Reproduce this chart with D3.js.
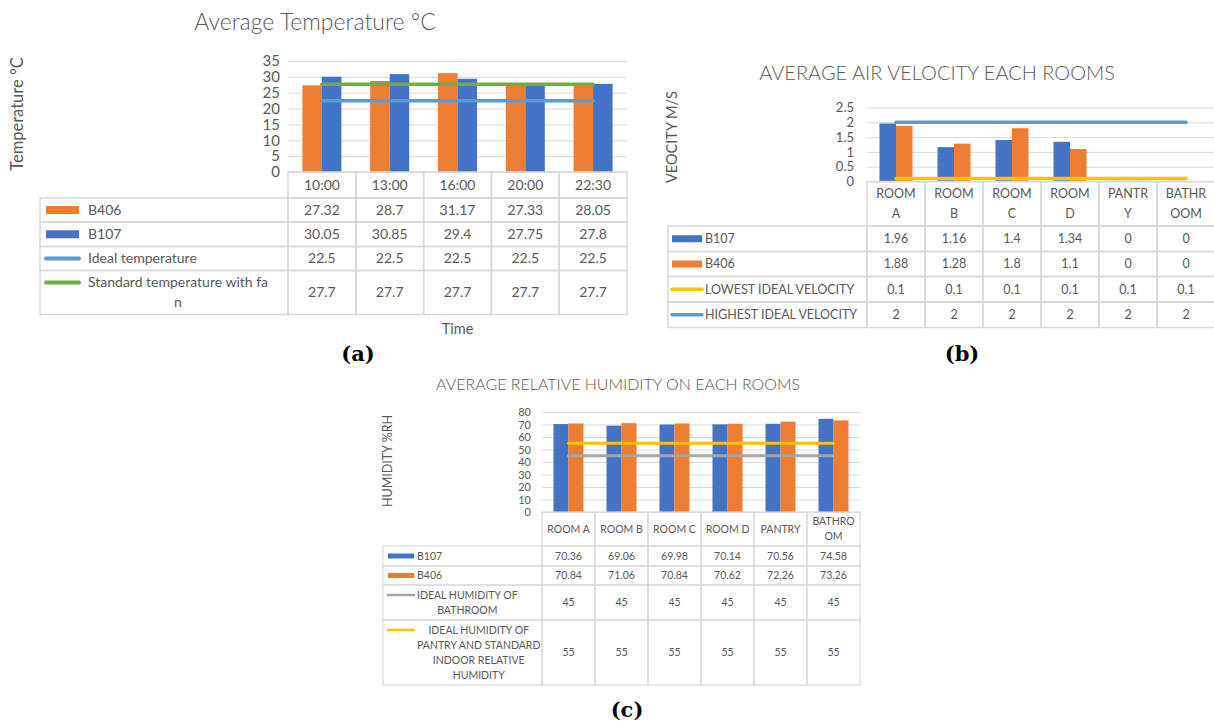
<!DOCTYPE html>
<html>
<head>
<meta charset="utf-8">
<script src="https://cdn.jsdelivr.net/npm/d3@7"></script>
<style>
  body { margin: 0; background: #fff; }
  svg { display: block; font-family: Lato, "Open Sans", sans-serif; }
</style>
</head>
<body>
<svg id="chart" width="1214" height="725"></svg>
<script>
// ---------------- DATA ----------------
// (a) Average Temperature
const tempTimes = ["10:00", "13:00", "16:00", "20:00", "22:30"];
const tempB406 = [27.32, 28.7, 31.17, 27.33, 28.05];
const tempB107 = [30.05, 30.85, 29.4, 27.75, 27.8];
const tempIdeal = [22.5, 22.5, 22.5, 22.5, 22.5];
const tempStandard = [27.7, 27.7, 27.7, 27.7, 27.7];
const tempTicks = [0, 5, 10, 15, 20, 25, 30, 35];

// (b) Average Air Velocity
const velRooms = ["ROOM A", "ROOM B", "ROOM C", "ROOM D", "PANTRY", "BATHROOM"];
const velHeaderLines = [["ROOM", "A"], ["ROOM", "B"], ["ROOM", "C"], ["ROOM", "D"], ["PANTR", "Y"], ["BATHR", "OOM"]];
const velB107 = [1.96, 1.16, 1.4, 1.34, 0, 0];
const velB406 = [1.88, 1.28, 1.8, 1.1, 0, 0];
const velLowest = [0.1, 0.1, 0.1, 0.1, 0.1, 0.1];
const velHighest = [2, 2, 2, 2, 2, 2];
const velTicks = [0, 0.5, 1, 1.5, 2, 2.5];

// (c) Average Relative Humidity
const humRooms = ["ROOM A", "ROOM B", "ROOM C", "ROOM D", "PANTRY", "BATHROOM"];
const humHeaderLines = [["ROOM A"], ["ROOM B"], ["ROOM C"], ["ROOM D"], ["PANTRY"], ["BATHRO", "OM"]];
const humB107 = [70.36, 69.06, 69.98, 70.14, 70.56, 74.58];
const humB406 = [70.84, 71.06, 70.84, 70.62, 72.26, 73.26];
const humBathroom = [45, 45, 45, 45, 45, 45];
const humPantry = [55, 55, 55, 55, 55, 55];
const humTicks = [0, 10, 20, 30, 40, 50, 60, 70, 80];

// ---------------- STYLE ----------------
const C = {
  orange: "#ED7D31", blue: "#4472C4", lblue: "#5B9BD5",
  green: "#70AD47", yellow: "#FFC000", gray: "#A5A5A5",
  grid: "#D9D9D9", text: "#595959"
};

const svg = d3.select("#chart");

function drawPanel(cfg, categories, headerLines, series, ticks) {
  const g = svg.append("g");
  const n = categories.length;
  const x = d3.scaleBand().domain(categories).range([cfg.plotLeft, cfg.plotLeft + n * cfg.colW]).padding(0);
  const y = d3.scaleLinear().domain([0, cfg.yMax]).range([cfg.yBottom, cfg.yTop]);
  const plotRight = cfg.plotLeft + n * cfg.colW;
  const gridRight = Math.min(plotRight, cfg.clipRight || 99999);

  // gridlines
  g.append("g")
    .attr("transform", `translate(${cfg.plotLeft},0)`)
    .call(d3.axisLeft(y).tickValues(ticks).tickSize(-(gridRight - cfg.plotLeft)).tickFormat(""))
    .call(s => s.select(".domain").remove())
    .call(s => s.selectAll("line").attr("stroke", C.grid).attr("stroke-width", 1));

  // tick labels
  g.append("g")
    .attr("transform", `translate(${cfg.tickX},0)`)
    .call(d3.axisLeft(y).tickValues(ticks).tickSize(0).tickPadding(0).tickFormat(d => String(d)))
    .call(s => s.select(".domain").remove())
    .call(s => s.selectAll("text").attr("fill", C.text).style("font-size", cfg.tickFont + "px").style("font-family", "Lato"));

  // bars
  const bars = series.filter(s => s.type === "bar");
  const inner = d3.scaleBand().domain(bars.map(b => b.name)).range([0, bars.length * cfg.barW]).padding(0);
  bars.forEach(b => {
    g.append("g").selectAll("rect").data(b.values).join("rect")
      .attr("x", (d, i) => x(categories[i]) + x.bandwidth() / 2 - bars.length * cfg.barW / 2 + inner(b.name))
      .attr("width", inner.bandwidth())
      .attr("y", d => y(d))
      .attr("height", d => y(0) - y(d))
      .attr("fill", b.color);
  });

  // lines
  series.filter(s => s.type === "line").forEach(l => {
    const line = d3.line().x((d, i) => x(categories[i]) + x.bandwidth() / 2).y(d => y(d));
    g.append("path").datum(l.values).attr("d", line)
      .attr("fill", "none").attr("stroke", l.color).attr("stroke-width", cfg.lineW).attr("stroke-linecap", "round");
  });

  // data table
  const tg = g.append("g");
  const bw = cfg.borderW;
  let top = cfg.yBottom;
  categories.forEach((c, i) => {
    tg.append("rect").attr("x", x(c)).attr("y", top).attr("width", cfg.colW).attr("height", cfg.headerH)
      .attr("fill", "none").attr("stroke", C.grid).attr("stroke-width", bw);
    const lines = headerLines[i];
    lines.forEach((t, k) => {
      tg.append("text").attr("x", x(c) + cfg.colW / 2)
        .attr("y", top + cfg.headerH / 2 + (k - (lines.length - 1) / 2) * cfg.lineH)
        .attr("dy", "0.35em").attr("text-anchor", "middle")
        .attr("fill", C.text).style("font-size", cfg.tableFont + "px").text(t);
    });
  });
  top += cfg.headerH;
  series.forEach((s, r) => {
    const h = cfg.rowHs[r];
    tg.append("rect").attr("x", cfg.tableLeft).attr("y", top).attr("width", cfg.plotLeft - cfg.tableLeft).attr("height", h)
      .attr("fill", "none").attr("stroke", C.grid).attr("stroke-width", bw);
    const lines = s.label;
    const firstY = top + h / 2 - (lines.length - 1) / 2 * cfg.lineH;
    if (s.type === "bar") {
      tg.append("rect").attr("x", cfg.tableLeft + cfg.keyX0).attr("y", firstY - cfg.keyH / 2)
        .attr("width", cfg.keyX1 - cfg.keyX0).attr("height", cfg.keyH).attr("fill", s.color);
    } else {
      tg.append("line").attr("x1", cfg.tableLeft + cfg.keyX0).attr("x2", cfg.tableLeft + cfg.keyX1)
        .attr("y1", firstY).attr("y2", firstY).attr("stroke", s.color).attr("stroke-width", cfg.keyLineW)
        .attr("stroke-linecap", "round");
    }
    const tx = cfg.tableLeft + cfg.textX;
    const texts = lines.map((t, k) => tg.append("text").attr("y", firstY + k * cfg.lineH).attr("dy", "0.35em")
      .attr("fill", C.text).style("font-size", cfg.tableFont + "px").text(t));
    const maxW = d3.max(texts, t => t.node().getComputedTextLength());
    texts.forEach(t => t.attr("x", tx + maxW / 2).attr("text-anchor", "middle"));
    s.values.forEach((v, i) => {
      tg.append("rect").attr("x", x(categories[i])).attr("y", top).attr("width", cfg.colW).attr("height", h)
        .attr("fill", "none").attr("stroke", C.grid).attr("stroke-width", bw);
      tg.append("text").attr("x", x(categories[i]) + cfg.colW / 2).attr("y", top + h / 2).attr("dy", "0.35em")
        .attr("text-anchor", "middle").attr("fill", C.text).style("font-size", cfg.tableFont + "px").text(String(v));
    });
    top += h;
  });

  // titles
  g.append("text").attr("x", cfg.titleX).attr("y", cfg.titleY).attr("dy", "0.35em").attr("text-anchor", "middle")
    .attr("fill", C.text).style("font-size", cfg.titleFont + "px").style("font-weight", 300).text(cfg.title);
  g.append("text").attr("transform", `translate(${cfg.yTitleX},${cfg.yTitleY}) rotate(-90)`).attr("dy", "0.35em")
    .attr("text-anchor", "middle").attr("fill", C.text).style("font-size", cfg.yTitleFont + "px").text(cfg.yTitle);
  if (cfg.xTitle) {
    g.append("text").attr("x", (cfg.plotLeft + plotRight) / 2).attr("y", cfg.xTitleY).attr("dy", "0.35em")
      .attr("text-anchor", "middle").attr("fill", C.text).style("font-size", cfg.xTitleFont + "px").text(cfg.xTitle);
  }
  g.append("text").attr("x", cfg.tagX).attr("y", cfg.tagY).attr("dy", "0.35em").attr("text-anchor", "middle")
    .attr("fill", "#000").style("font-family", "'DejaVu Serif', serif").style("font-weight", "bold")
    .style("font-size", "21px").text(cfg.tag);
}

// Panel (a)
drawPanel({
  plotLeft: 288, colW: 67.8, yTop: 61, yBottom: 172, yMax: 35, tickX: 280, tickFont: 15,
  barW: 19.5, lineW: 3.5, borderW: 1.5, tableLeft: 40, headerH: 26, rowHs: [24, 24.5, 24, 44],
  lineH: 20, tableFont: 14, keyX0: 6, keyX1: 39, keyH: 8, keyLineW: 4, textX: 48,
  title: "Average Temperature °C", titleX: 315, titleY: 22, titleFont: 23,
  yTitle: "Temperature °C", yTitleX: 17, yTitleY: 114, yTitleFont: 16.5,
  xTitle: "Time", xTitleY: 329, xTitleFont: 14.5,
  tag: "(a)", tagX: 358, tagY: 354
}, tempTimes, tempTimes.map(t => [t]), [
  { name: "B406", label: ["B406"], type: "bar", color: C.orange, values: tempB406 },
  { name: "B107", label: ["B107"], type: "bar", color: C.blue, values: tempB107 },
  { name: "Ideal", label: ["Ideal temperature"], type: "line", color: C.lblue, values: tempIdeal },
  { name: "Standard", label: ["Standard temperature with fa", "n"], type: "line", color: C.green, values: tempStandard }
], tempTicks);

// Panel (b)
drawPanel({
  plotLeft: 867, colW: 58, yTop: 107.5, yBottom: 181.5, yMax: 2.5, tickX: 854, tickFont: 13, clipRight: 1214,
  barW: 16.5, lineW: 3.5, borderW: 1.5, tableLeft: 668, headerH: 44.5, rowHs: [25.5, 25, 25.5, 25.5],
  lineH: 20, tableFont: 12.5, keyX0: 4, keyX1: 34, keyH: 7, keyLineW: 3.5, textX: 37,
  title: "AVERAGE AIR VELOCITY EACH ROOMS", titleX: 937, titleY: 73, titleFont: 20,
  yTitle: "VEOCITY M/S", yTitleX: 672, yTitleY: 137, yTitleFont: 14.5,
  tag: "(b)", tagX: 962, tagY: 354
}, velRooms, velHeaderLines, [
  { name: "B107", label: ["B107"], type: "bar", color: C.blue, values: velB107 },
  { name: "B406", label: ["B406"], type: "bar", color: C.orange, values: velB406 },
  { name: "Lowest", label: ["LOWEST IDEAL VELOCITY"], type: "line", color: C.yellow, values: velLowest },
  { name: "Highest", label: ["HIGHEST IDEAL VELOCITY"], type: "line", color: C.lblue, values: velHighest }
], velTicks);

// Panel (c)
drawPanel({
  plotLeft: 542, colW: 53, yTop: 412, yBottom: 512, yMax: 80, tickX: 531, tickFont: 11,
  barW: 15, lineW: 3, borderW: 1.2, tableLeft: 383, headerH: 34, rowHs: [20, 19, 35, 65],
  lineH: 15, tableFont: 10.5, keyX0: 5, keyX1: 31, keyH: 5, keyLineW: 2.5, textX: 34,
  title: "AVERAGE RELATIVE HUMIDITY ON EACH ROOMS", titleX: 618, titleY: 384, titleFont: 16,
  yTitle: "HUMIDITY %RH", yTitleX: 388, yTitleY: 461, yTitleFont: 12.5,
  tag: "(c)", tagX: 627, tagY: 710
}, humRooms, humHeaderLines, [
  { name: "B107", label: ["B107"], type: "bar", color: C.blue, values: humB107 },
  { name: "B406", label: ["B406"], type: "bar", color: C.orange, values: humB406 },
  { name: "Bath", label: ["IDEAL HUMIDITY OF", "BATHROOM"], type: "line", color: C.gray, values: humBathroom },
  { name: "Pantry", label: ["IDEAL HUMIDITY OF", "PANTRY AND STANDARD", "INDOOR RELATIVE", "HUMIDITY"], type: "line", color: C.yellow, values: humPantry }
], humTicks);
</script>
</body>
</html>
